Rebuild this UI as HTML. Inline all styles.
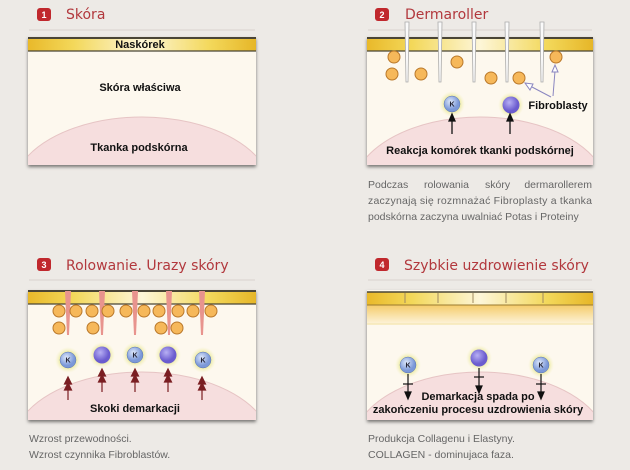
<!DOCTYPE html>
<html><head><meta charset="utf-8"><style>
html,body{margin:0;padding:0;background:#edeae6;width:630px;height:470px;overflow:hidden;}
svg{display:block}
.t{font-family:"DejaVu Sans","Liberation Sans",sans-serif;font-size:14px;fill:#b2383d}
.b{font-family:"Liberation Sans",sans-serif;font-weight:bold;font-size:11px;fill:#111}
.p{font-family:"Liberation Sans",sans-serif;font-size:10.5px;fill:#666}
.n{font-family:"Liberation Sans",sans-serif;font-weight:bold;font-size:9px;fill:#fff}
.k{font-family:"Liberation Sans",sans-serif;font-weight:bold;font-size:7px;fill:#223}
</style></head><body>
<svg width="630" height="470" viewBox="0 0 630 470" xmlns="http://www.w3.org/2000/svg">
<defs>
<linearGradient id="yb" x1="0" x2="1"><stop offset="0" stop-color="#e9b92a"/><stop offset=".2" stop-color="#f3d85a"/><stop offset=".5" stop-color="#fdf6d8"/><stop offset=".8" stop-color="#f3d85a"/><stop offset="1" stop-color="#e6b628"/></linearGradient>
<linearGradient id="og" x1="0" y1="0" x2="0" y2="1"><stop offset="0" stop-color="#f5cc6a"/><stop offset="1" stop-color="#fdf5e0"/></linearGradient>
<radialGradient id="glow"><stop offset=".55" stop-color="#e8e890"/><stop offset="1" stop-color="#f6f2c8" stop-opacity="0"/></radialGradient>
<radialGradient id="kc" cx=".4" cy=".35"><stop offset="0" stop-color="#dfe9fb"/><stop offset="1" stop-color="#7b98d8"/></radialGradient>
<radialGradient id="pc" cx=".4" cy=".35"><stop offset="0" stop-color="#b8b0f4"/><stop offset="1" stop-color="#6b5ccf"/></radialGradient>
<filter id="sh" x="-5%" y="-5%" width="110%" height="115%"><feDropShadow dx="0" dy="2" stdDeviation="1.5" flood-color="#000" flood-opacity=".5"/></filter>
<clipPath id="c1"><rect x="28" y="37" width="228" height="128"/></clipPath>
<clipPath id="c2"><rect x="367" y="37" width="226" height="128"/></clipPath>
<clipPath id="c3"><rect x="28" y="290" width="228" height="130"/></clipPath>
<clipPath id="c4"><rect x="367" y="290" width="226" height="130"/></clipPath>
<g id="K"><circle r="13" fill="url(#glow)"/><circle r="8" fill="url(#kc)" stroke="#5a73b0" stroke-width=".5"/><text class="k" y="2.5" text-anchor="middle">K</text></g>
<g id="P"><circle r="13" fill="url(#glow)"/><circle r="8.5" fill="url(#pc)"/></g>
<g id="o"><circle r="6" fill="#f6b85a" stroke="#b9782a" stroke-width="1"/></g>
</defs>

<rect x="37" y="8" width="14" height="13" rx="3" fill="#c0282d"/><text class="n" x="44" y="18" text-anchor="middle">1</text>
<text class="t" x="66" y="19">Skóra</text>
<line x1="29" y1="30" x2="255" y2="30" stroke="#d9d3ce"/>
<rect x="375" y="8" width="14" height="13" rx="3" fill="#c0282d"/><text class="n" x="382" y="18" text-anchor="middle">2</text>
<text class="t" x="405" y="19">Dermaroller</text>
<line x1="368" y1="30" x2="592" y2="30" stroke="#d9d3ce"/>
<rect x="37" y="258" width="14" height="13" rx="3" fill="#c0282d"/><text class="n" x="44" y="268" text-anchor="middle">3</text>
<text class="t" x="66" y="270">Rolowanie. Urazy skóry</text>
<line x1="29" y1="280" x2="255" y2="280" stroke="#d9d3ce"/>
<rect x="375" y="258" width="14" height="13" rx="3" fill="#c0282d"/><text class="n" x="382" y="268" text-anchor="middle">4</text>
<text class="t" x="404" y="270">Szybkie uzdrowienie skóry</text>
<line x1="368" y1="280" x2="592" y2="280" stroke="#d9d3ce"/>

<!-- panel 1 -->
<rect x="28" y="37" width="228" height="128" fill="#fdf8ee" filter="url(#sh)"/>
<g clip-path="url(#c1)">
<ellipse cx="142" cy="192" rx="130" ry="75" fill="#f6dede" stroke="#e6c4c4"/>
<rect x="28" y="37" width="228" height="14" fill="url(#yb)"/>
<line x1="28" y1="38" x2="256" y2="38" stroke="#4a4536" stroke-width="2"/>
<line x1="28" y1="51" x2="256" y2="51" stroke="#4a4536" stroke-width="1.2"/>
</g>
<text class="b" x="140" y="48" text-anchor="middle">Naskórek</text>
<text class="b" x="140" y="91" text-anchor="middle">Skóra właściwa</text>
<text class="b" x="139" y="151" text-anchor="middle">Tkanka podskórna</text>

<!-- panel 2 -->
<rect x="367" y="37" width="226" height="128" fill="#fdf8ee" filter="url(#sh)"/>
<g clip-path="url(#c2)">
<ellipse cx="480" cy="192" rx="128" ry="75" fill="#f6dede" stroke="#e6c4c4"/>
<rect x="367" y="37" width="226" height="14" fill="url(#yb)"/>
<line x1="367" y1="38" x2="593" y2="38" stroke="#4a4536" stroke-width="2"/>
<line x1="367" y1="51" x2="593" y2="51" stroke="#4a4536" stroke-width="1.2"/>
</g>
<g fill="#fafafa" stroke="#aaa" stroke-width=".8">
<path d="M405 22 L409 22 L408 82 L406 82 Z"/><path d="M438 22 L442 22 L441 82 L439 82 Z"/><path d="M472 22 L476 22 L475 82 L473 82 Z"/><path d="M505 22 L509 22 L508 82 L506 82 Z"/><path d="M540 22 L544 22 L543 82 L541 82 Z"/>
</g>
<use href="#o" x="394" y="57"/><use href="#o" x="392" y="74"/><use href="#o" x="421" y="74"/><use href="#o" x="457" y="62"/><use href="#o" x="491" y="78"/><use href="#o" x="519" y="78"/><use href="#o" x="556" y="57"/>
<use href="#K" x="452" y="104"/><use href="#P" x="511" y="105"/>
<g stroke="#111" stroke-width="1.3" fill="#111"><line x1="452" y1="134" x2="452" y2="120"/><path d="M449 121 L452 114 L455 121Z"/><line x1="510" y1="134" x2="510" y2="120"/><path d="M507 121 L510 114 L513 121Z"/></g>
<g stroke="#8a86c0" stroke-width="1" fill="#fff"><line x1="532" y1="87" x2="551" y2="97"/><path d="M525 83 L533 84 L530 90Z"/><line x1="553" y1="96" x2="555" y2="71"/><path d="M552 72 L555 65 L558 72Z"/></g>
<text class="b" x="558" y="109" text-anchor="middle">Fibroblasty</text>
<text class="b" x="480" y="154" text-anchor="middle">Reakcja komórek tkanki podskórnej</text>
<text class="p" x="368" y="188">Podczas</text>
<text class="p" x="424" y="188">rolowania</text>
<text class="p" x="485" y="188">skóry</text>
<text class="p" x="592" y="188" text-anchor="end">dermarollerem</text>
<text class="p" x="368" y="204" textLength="224" lengthAdjust="spacing">zaczynają się rozmnażać Fibroplasty a tkanka</text>
<text class="p" x="368" y="220">podskórna zaczyna uwalniać Potas i Proteiny</text>

<!-- panel 3 -->
<rect x="28" y="290" width="228" height="130" fill="#fdf8ee" filter="url(#sh)"/>
<g clip-path="url(#c3)">
<ellipse cx="142" cy="447" rx="130" ry="75" fill="#f6dede" stroke="#e6c4c4"/>
<rect x="28" y="290" width="228" height="14" fill="url(#yb)"/>
<line x1="28" y1="291" x2="256" y2="291" stroke="#4a4536" stroke-width="2"/>
<line x1="28" y1="304" x2="256" y2="304" stroke="#4a4536" stroke-width="1.2"/>
</g>
<g fill="#e8948e"><path d="M65 291 L71 291 L69 335 L67 335Z"/><path d="M99 291 L105 291 L103 335 L101 335Z"/><path d="M132 291 L138 291 L136 335 L134 335Z"/><path d="M166 291 L172 291 L170 335 L168 335Z"/><path d="M199 291 L205 291 L203 335 L201 335Z"/></g>
<use href="#o" x="59" y="311"/><use href="#o" x="76" y="311"/><use href="#o" x="92" y="311"/><use href="#o" x="108" y="311"/><use href="#o" x="126" y="311"/><use href="#o" x="144" y="311"/><use href="#o" x="159" y="311"/><use href="#o" x="178" y="311"/><use href="#o" x="193" y="311"/><use href="#o" x="211" y="311"/>
<use href="#o" x="59" y="328"/><use href="#o" x="93" y="328"/><use href="#o" x="161" y="328"/><use href="#o" x="177" y="328"/>
<use href="#K" x="68" y="360"/><use href="#P" x="102" y="355"/><use href="#K" x="135" y="355"/><use href="#P" x="168" y="355"/><use href="#K" x="203" y="360"/>
<g stroke="#7a1e22" stroke-width="1.2" fill="#7a1e22">
<line x1="68" y1="400" x2="68" y2="378"/><path d="M64.5 384 L68 377 L71.5 384Z"/><path d="M64.5 390 L68 383 L71.5 390Z"/>
<line x1="102" y1="392" x2="102" y2="370"/><path d="M98.5 376 L102 369 L105.5 376Z"/><path d="M98.5 382 L102 375 L105.5 382Z"/>
<line x1="135" y1="392" x2="135" y2="370"/><path d="M131.5 376 L135 369 L138.5 376Z"/><path d="M131.5 382 L135 375 L138.5 382Z"/>
<line x1="168" y1="392" x2="168" y2="370"/><path d="M164.5 376 L168 369 L171.5 376Z"/><path d="M164.5 382 L168 375 L171.5 382Z"/>
<line x1="202" y1="400" x2="202" y2="378"/><path d="M198.5 384 L202 377 L205.5 384Z"/><path d="M198.5 390 L202 383 L205.5 390Z"/>
</g>
<text class="b" x="135" y="412" text-anchor="middle">Skoki demarkacji</text>
<text class="p" x="29" y="442">Wzrost przewodności.</text>
<text class="p" x="29" y="458">Wzrost czynnika Fibroblastów.</text>

<!-- panel 4 -->
<rect x="367" y="290" width="226" height="130" fill="#fdf8ee" filter="url(#sh)"/>
<g clip-path="url(#c4)">
<rect x="367" y="305" width="226" height="20" fill="url(#og)"/>
<line x1="367" y1="324" x2="593" y2="324" stroke="#f2e3a8"/>
<ellipse cx="480" cy="447" rx="128" ry="75" fill="#f6dede" stroke="#e6c4c4"/>
<rect x="367" y="292" width="226" height="13" fill="url(#yb)"/>
<line x1="367" y1="292" x2="593" y2="292" stroke="#4a4536" stroke-width="1.5"/>
<line x1="367" y1="305" x2="593" y2="305" stroke="#9a7a30" stroke-width="1"/>
</g>
<g stroke="#a08a60" stroke-width="1"><line x1="405" y1="293" x2="405" y2="303"/><line x1="438" y1="293" x2="438" y2="303"/><line x1="473" y1="293" x2="473" y2="303"/><line x1="506" y1="293" x2="506" y2="303"/><line x1="543" y1="293" x2="543" y2="303"/></g>
<use href="#K" x="408" y="365"/><use href="#P" x="479" y="358"/><use href="#K" x="541" y="365"/>
<g stroke="#111" stroke-width="1.2" fill="#111">
<line x1="408" y1="374" x2="408" y2="393"/><line x1="403" y1="384" x2="413" y2="384"/><path d="M405 392 L408 399 L411 392Z"/>
<line x1="479" y1="368" x2="479" y2="387"/><line x1="474" y1="377" x2="484" y2="377"/><path d="M476 386 L479 393 L482 386Z"/>
<line x1="541" y1="374" x2="541" y2="393"/><line x1="536" y1="384" x2="546" y2="384"/><path d="M538 392 L541 399 L544 392Z"/>
</g>
<text class="b" x="478" y="400" text-anchor="middle">Demarkacja spada po</text>
<text class="b" x="478" y="413" text-anchor="middle">zakończeniu procesu uzdrowienia skóry</text>
<text class="p" x="368" y="442">Produkcja Collagenu i Elastyny.</text>
<text class="p" x="368" y="458">COLLAGEN - dominujaca faza.</text>
</svg>
</body></html>
